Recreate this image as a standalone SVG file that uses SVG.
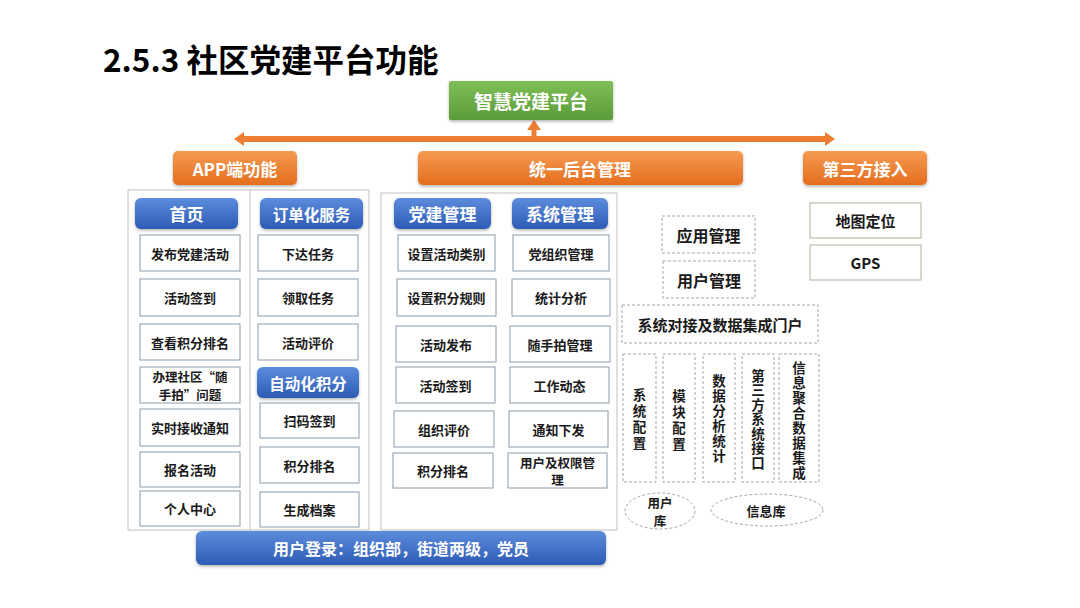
<svg xmlns="http://www.w3.org/2000/svg" width="1080" height="608" viewBox="0 0 1080 608">
<defs>
<linearGradient id="gOr" x1="0" y1="0" x2="0" y2="1"><stop offset="0" stop-color="#F49A52"/><stop offset="1" stop-color="#E56E1E"/></linearGradient>
<linearGradient id="gBl" x1="0" y1="0" x2="0" y2="1"><stop offset="0" stop-color="#5C8CDC"/><stop offset="1" stop-color="#2D5BB5"/></linearGradient>
<linearGradient id="gGr" x1="0" y1="0" x2="0" y2="1"><stop offset="0" stop-color="#7FBF57"/><stop offset="1" stop-color="#5A9C39"/></linearGradient>
<filter id="sh" x="-10%" y="-20%" width="120%" height="150%"><feDropShadow dx="0" dy="1.5" stdDeviation="1.5" flood-color="#000" flood-opacity="0.3"/></filter>
<marker id="ah" markerUnits="userSpaceOnUse" markerWidth="10" markerHeight="14" viewBox="0 0 10 14" refX="1" refY="7" orient="auto-start-reverse"><path d="M0,0 L10,7 L0,14 z" fill="#ED7D31"/></marker>
<style>
text{font-family:"Noto Sans CJK SC","Noto Sans",sans-serif;font-weight:bold;text-anchor:middle;dominant-baseline:central}
.ttl{font-size:31.5px;fill:#000;text-anchor:start;dominant-baseline:alphabetic}
.or{fill:url(#gOr);filter:url(#sh)}
.bl{fill:url(#gBl);filter:url(#sh)}
.gr{fill:url(#gGr);filter:url(#sh)}
.hw{fill:#fff;font-size:17px}
.hw5{fill:#fff;font-size:15.5px}
.wb{fill:#fff;stroke:#8A9AAE;stroke-width:1}
.ct{fill:none;stroke:#BFBFBF;stroke-width:1}
.t13{fill:#1a1a1a;font-size:13px}
.t12{fill:#1a1a1a;font-size:12.5px}
.db{fill:#fff;stroke:#A6A6A6;stroke-width:1;stroke-dasharray:3 2}
.t15{fill:#1a1a1a;font-size:15px}
.t16{fill:#1a1a1a;font-size:16px}
.tv{fill:#1a1a1a;font-size:13.5px;writing-mode:vertical-rl}
.gb{fill:#fff;stroke:#A8B59C;stroke-width:1}
</style>
</defs>
<rect width="1080" height="608" fill="#fff"/>
<text class="ttl" x="103" y="72">2.5.3 社区党建平台功能</text>

<g id="connectors">
<line x1="243" y1="139" x2="826" y2="139" stroke="#ED7D31" stroke-width="6" marker-start="url(#ah)" marker-end="url(#ah)"/>
<line x1="534" y1="139" x2="534" y2="129" stroke="#ED7D31" stroke-width="5" marker-end="url(#ah)"/>
</g>

<g id="platform"><rect class="gr" x="449" y="81" width="164" height="39" rx="2"/><text class="hw" x="531" y="100.5" style="font-size:19px">智慧党建平台</text></g>
<g id="app"><rect class="or" x="173" y="151" width="124" height="34" rx="5"/><text class="hw" x="235" y="168">APP端功能</text></g>
<g id="backend"><rect class="or" x="418" y="151" width="325" height="34" rx="5"/><text class="hw" x="580" y="168">统一后台管理</text></g>
<g id="third"><rect class="or" x="803" y="151" width="124" height="34" rx="5"/><text class="hw" x="865" y="168">第三方接入</text></g>

<g id="app-container"><rect class="ct" x="128" y="190" width="241" height="340"/><line class="ct" x1="250" y1="190" x2="250" y2="530"/></g>
<g id="home"><rect class="bl" x="135" y="198" width="103" height="31" rx="6"/><text class="hw" x="186.5" y="213.5">首页</text></g>
<g id="n1"><rect class="wb" x="140" y="235" width="100" height="36"/><text class="t13" x="190" y="253">发布党建活动</text></g>
<g id="n2"><rect class="wb" x="140" y="279" width="100" height="37"/><text class="t13" x="190" y="297.5">活动签到</text></g>
<g id="n3"><rect class="wb" x="140" y="324" width="100" height="36"/><text class="t13" x="190" y="342">查看积分排名</text></g>
<g id="n4"><rect class="wb" x="140" y="367" width="100" height="36"/><text class="t12" x="190" y="376.5">办理社区“随<tspan x="190" dy="17">手拍”问题</tspan></text></g>
<g id="n5"><rect class="wb" x="140" y="409" width="100" height="37"/><text class="t13" x="190" y="427.5">实时接收通知</text></g>
<g id="n6"><rect class="wb" x="140" y="452" width="100" height="35"/><text class="t13" x="190" y="469.5">报名活动</text></g>
<g id="n7"><rect class="wb" x="140" y="491" width="100" height="35"/><text class="t13" x="190" y="508.5">个人中心</text></g>

<g id="order"><rect class="bl" x="260" y="198" width="103" height="31" rx="6"/><text class="hw5" x="311.5" y="213.5">订单化服务</text></g>
<g id="n8"><rect class="wb" x="258" y="235" width="100" height="36"/><text class="t13" x="308" y="253">下达任务</text></g>
<g id="n9"><rect class="wb" x="258" y="279" width="100" height="37"/><text class="t13" x="308" y="297.5">领取任务</text></g>
<g id="n10"><rect class="wb" x="258" y="324" width="100" height="36"/><text class="t13" x="308" y="342">活动评价</text></g>
<g id="auto"><rect class="bl" x="257" y="367" width="102" height="31" rx="6"/><text class="hw5" x="308" y="382.5">自动化积分</text></g>
<g id="n11"><rect class="wb" x="260" y="403" width="99" height="35"/><text class="t13" x="309.5" y="420.5">扫码签到</text></g>
<g id="n12"><rect class="wb" x="260" y="447" width="99" height="36"/><text class="t13" x="309.5" y="465">积分排名</text></g>
<g id="n13"><rect class="wb" x="260" y="492" width="99" height="35"/><text class="t13" x="309.5" y="509.5">生成档案</text></g>

<g id="mid-container"><rect class="ct" x="381" y="193" width="236" height="337"/></g>
<g id="party"><rect class="bl" x="394" y="198" width="97" height="31" rx="6"/><text class="hw" x="442.5" y="213.5">党建管理</text></g>
<g id="m1"><rect class="wb" x="398" y="235" width="97" height="36"/><text class="t13" x="446.5" y="253">设置活动类别</text></g>
<g id="m2"><rect class="wb" x="397" y="279" width="99" height="37"/><text class="t13" x="446.5" y="297.5">设置积分规则</text></g>
<g id="m3"><rect class="wb" x="396" y="326" width="100" height="36"/><text class="t13" x="446" y="344">活动发布</text></g>
<g id="m4"><rect class="wb" x="396" y="367" width="99" height="36"/><text class="t13" x="445.5" y="385">活动签到</text></g>
<g id="m5"><rect class="wb" x="394" y="411" width="100" height="36"/><text class="t13" x="444" y="429">组织评价</text></g>
<g id="m6"><rect class="wb" x="393" y="453" width="100" height="35"/><text class="t13" x="443" y="470.5">积分排名</text></g>

<g id="sys"><rect class="bl" x="512" y="198" width="96" height="31" rx="6"/><text class="hw" x="560" y="213.5">系统管理</text></g>
<g id="s1"><rect class="wb" x="513" y="235" width="96" height="36"/><text class="t13" x="561" y="253">党组织管理</text></g>
<g id="s2"><rect class="wb" x="512" y="279" width="98" height="37"/><text class="t13" x="561" y="297.5">统计分析</text></g>
<g id="s3"><rect class="wb" x="510" y="326" width="100" height="36"/><text class="t13" x="560" y="344">随手拍管理</text></g>
<g id="s4"><rect class="wb" x="510" y="367" width="99" height="36"/><text class="t13" x="559.5" y="385">工作动态</text></g>
<g id="s5"><rect class="wb" x="509" y="411" width="99" height="36"/><text class="t13" x="558.5" y="429">通知下发</text></g>
<g id="s6"><rect class="wb" x="508" y="453" width="99" height="35"/><text class="t12" x="557.5" y="462">用户及权限管<tspan x="557.5" dy="17">理</tspan></text></g>

<g id="login"><rect class="bl" x="196" y="531" width="410" height="34" rx="6"/><text class="hw" x="401" y="548" style="font-size:16px">用户登录：组织部，街道两级，党员</text></g>

<g id="appmgr"><rect class="db" x="662" y="216" width="93" height="37"/><text class="t16" x="708.5" y="234.5">应用管理</text></g>
<g id="usermgr"><rect class="db" x="663" y="261" width="92" height="37"/><text class="t16" x="709" y="279.5">用户管理</text></g>
<g id="portal"><rect class="db" x="622" y="305" width="196" height="38"/><text class="t15" x="720" y="324">系统对接及数据集成门户</text></g>

<g id="v1"><rect class="db" x="623" y="354" width="33" height="128"/><text class="tv" x="639.5" y="420" style="letter-spacing:2.5px">系统配置</text></g>
<g id="v2"><rect class="db" x="663" y="354" width="32" height="128"/><text class="tv" x="679" y="421" style="letter-spacing:2.5px">模块配置</text></g>
<g id="v3"><rect class="db" x="703" y="354" width="32" height="128"/><text class="tv" x="719" y="419.5" style="letter-spacing:1.5px">数据分析统计</text></g>
<g id="v4"><rect class="db" x="742" y="354" width="32" height="128"/><text class="tv" x="758" y="419.5" style="letter-spacing:1px">第三方系统接口</text></g>
<g id="v5"><rect class="db" x="779" y="354" width="40" height="128"/><text class="tv" x="799" y="421" style="letter-spacing:1.5px">信息聚合数据集成</text></g>

<g id="userdb"><ellipse class="db" cx="660" cy="511" rx="35" ry="18"/><text class="t12" x="660" y="502.5">用户<tspan x="660" dy="17">库</tspan></text></g>
<g id="infodb"><ellipse class="db" cx="767" cy="510" rx="56" ry="16"/><text class="t13" x="766" y="510">信息库</text></g>

<g id="map"><rect class="gb" x="810" y="203" width="111" height="35"/><text class="t15" x="865.5" y="220.5">地图定位</text></g>
<g id="gps"><rect class="gb" x="810" y="245" width="111" height="35"/><text class="t15" x="865.5" y="262.5">GPS</text></g>
</svg>
